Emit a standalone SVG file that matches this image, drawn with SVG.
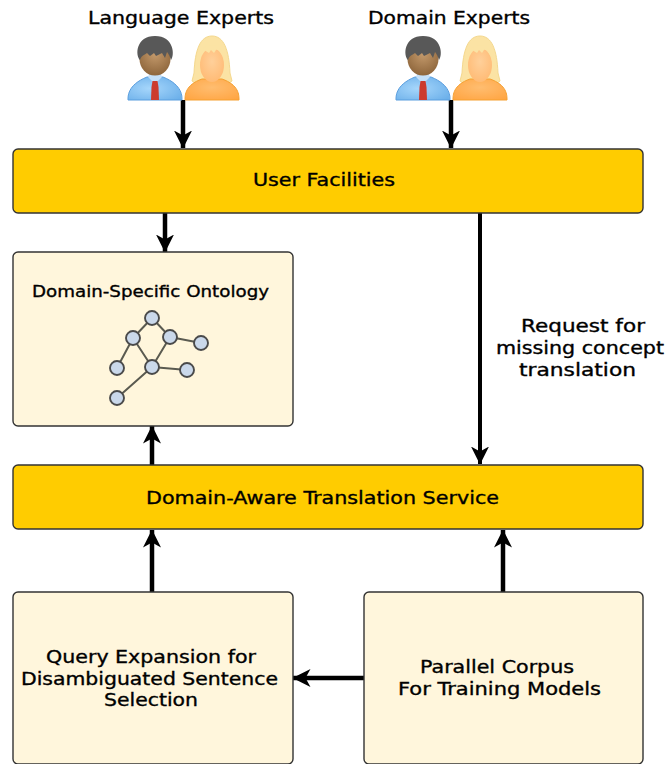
<svg xmlns="http://www.w3.org/2000/svg" width="667" height="764" viewBox="0 0 667 764">
<style>
text{font-family:"DejaVu Sans",sans-serif;fill:#000;text-anchor:middle;font-size:17.5px;stroke:#000;stroke-width:.35px}
.y{fill:#ffcc00;stroke:#333;stroke-width:1.4}
.c{fill:#fff6dc;stroke:#333;stroke-width:1.4}
.a{fill:none;stroke:#000;stroke-width:4.500}
.a2{fill:none;stroke:#000;stroke-width:4}
.e{stroke:#5a5a50;stroke-width:2}
.n{fill:#cad8ea;stroke:#4a4a4a;stroke-width:1.900}
</style>
<defs>
<marker id="h" viewBox="0 0 18 18" refX="17.500" refY="9" markerUnits="userSpaceOnUse" markerWidth="18" markerHeight="18" orient="auto"><path d="M0 0L18 9L0 18L5 9Z" fill="#000"/></marker>
<radialGradient id="shirt" cx=".4" cy=".5" r=".7"><stop offset="0" stop-color="#a6d6fb"/><stop offset="1" stop-color="#6cb0ea"/></radialGradient>
<radialGradient id="skinM" cx=".5" cy=".35" r=".7"><stop offset="0" stop-color="#c49a6c"/><stop offset="1" stop-color="#8a6238"/></radialGradient>
<radialGradient id="skinF" cx=".5" cy=".4" r=".7"><stop offset="0" stop-color="#ffd09a"/><stop offset="1" stop-color="#ffb870"/></radialGradient>
<radialGradient id="dress" cx=".5" cy=".4" r=".7"><stop offset="0" stop-color="#ffbd70"/><stop offset="1" stop-color="#ffa644"/></radialGradient>
<g id="man">
<path d="M-27 33C-27 30-28 18-8 10L8 10C28 18 27 30 27 33Z" fill="url(#shirt)" stroke="#5b9ede"/>
<path d="M-7 10L0 17L7 10L5 5L-5 5Z" fill="#c5e0f8"/>
<path d="M-2.500 14L2.500 14L3.500 20L4 33L-4 33L-3.500 20Z" fill="#cc3b2e"/>
<ellipse cx="0" cy="-8" rx="15.500" ry="16.500" fill="url(#skinM)"/>
<path d="M-15-7C-20-12-19-31 0-31C19-31 20-12 16-7C15-10 14-13 12-15L10-9L7-14L1-11L-1-14L-5-11L-8-14C-11-12-14-11-15-7Z" fill="#585858"/>
</g>
<g id="woman">
<path d="M0-31C-12-31-17-17-18 6L-20 14L-13 19L13 19L20 14L18 6C17-17 12-31 0-31Z" fill="#fbe3a4" stroke="#f4d88e"/>
<path d="M-27 33C-27 28-27 18-10 12L10 12C27 18 27 28 27 33Z" fill="url(#dress)" stroke="#f5a030"/>
<ellipse cx="0" cy="-2" rx="12" ry="17" fill="url(#skinF)"/>
<path d="M-12-7C-12-17-6-22 0-22C6-22 12-17 12-7C10-15 6-18 4-17L2-14L-1-17L-3-14L-8-17C-10-15-11-12-12-7Z" fill="#fbe3a4"/>
</g>
</defs>
<g id="connectors">
<path class="a" d="M183 100V148" marker-end="url(#h)"/>
<path class="a" d="M451 100V148" marker-end="url(#h)"/>
<path class="a" d="M165 213V252" marker-end="url(#h)"/>
<path class="a2" d="M480 213V464" marker-end="url(#h)"/>
<path class="a" d="M152 465V426" marker-end="url(#h)"/>
<path class="a" d="M152 592V530" marker-end="url(#h)"/>
<path class="a" d="M503 592V530" marker-end="url(#h)"/>
<path class="a" d="M364 678H293" marker-end="url(#h)"/>
</g>
<g id="language-experts">
<text x="181" y="24" textLength="186" lengthAdjust="spacingAndGlyphs">Language Experts</text>
<use href="#man" x="155" y="67"/><use href="#woman" x="212" y="67"/>
</g>
<g id="domain-experts">
<text x="449" y="24" textLength="162" lengthAdjust="spacingAndGlyphs">Domain Experts</text>
<use href="#man" x="423" y="67"/><use href="#woman" x="480" y="67"/>
</g>
<g id="user-facilities">
<rect class="y" x="13" y="149" width="630" height="64" rx="5"/>
<text x="324" y="186" textLength="142" lengthAdjust="spacingAndGlyphs">User Facilities</text>
</g>
<g id="ontology">
<rect class="c" x="13" y="252" width="280" height="174" rx="5"/>
<text x="150.500" y="297" style="font-size:16px" textLength="237" lengthAdjust="spacingAndGlyphs">Domain-Specific Ontology</text>
<g id="graph">
<path class="e" d="M152 318L133 338M152 318L170 337M133 338L117 368M133 338L152 367M170 337L152 367M170 337L201 343M152 367L187 370M152 367L117 398"/>
<ellipse class="n" cx="152" cy="318" rx="7" ry="7"/>
<ellipse class="n" cx="133" cy="338" rx="7" ry="7"/>
<ellipse class="n" cx="170" cy="337" rx="7" ry="7"/>
<ellipse class="n" cx="201" cy="343" rx="7" ry="7"/>
<ellipse class="n" cx="117" cy="368" rx="7" ry="7"/>
<ellipse class="n" cx="152" cy="367" rx="7" ry="7"/>
<ellipse class="n" cx="187" cy="370" rx="7" ry="7"/>
<ellipse class="n" cx="117" cy="398" rx="7" ry="7"/>
</g>
</g>
<g id="translation-service">
<rect class="y" x="13" y="465" width="630" height="64" rx="5"/>
<text x="322.500" y="503.500" textLength="353" lengthAdjust="spacingAndGlyphs">Domain-Aware Translation Service</text>
</g>
<g id="query-expansion">
<rect class="c" x="13" y="592" width="280" height="172" rx="5"/>
<text x="151" y="662.500" textLength="210" lengthAdjust="spacingAndGlyphs">Query Expansion for</text>
<text x="149.500" y="684.500" textLength="257" lengthAdjust="spacingAndGlyphs">Disambiguated Sentence</text>
<text x="151" y="705.500" textLength="94" lengthAdjust="spacingAndGlyphs">Selection</text>
</g>
<g id="parallel-corpus">
<rect class="c" x="364" y="592" width="279" height="172" rx="5"/>
<text x="497" y="673" textLength="154" lengthAdjust="spacingAndGlyphs">Parallel Corpus</text>
<text x="499.500" y="695" textLength="203" lengthAdjust="spacingAndGlyphs">For Training Models</text>
</g>
<g id="request-label">
<text x="583" y="332" textLength="124" lengthAdjust="spacingAndGlyphs">Request for</text>
<text x="580" y="354" textLength="168" lengthAdjust="spacingAndGlyphs">missing concept</text>
<text x="577.500" y="376" textLength="117" lengthAdjust="spacingAndGlyphs">translation</text>
</g>
</svg>
